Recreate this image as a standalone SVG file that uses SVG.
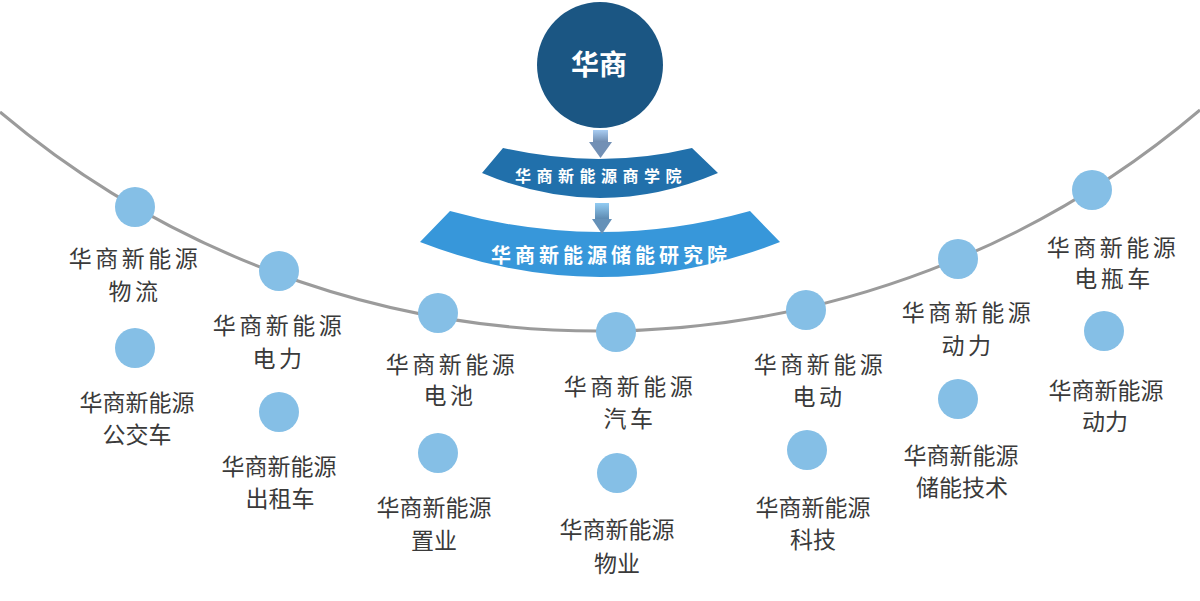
<svg xmlns="http://www.w3.org/2000/svg" width="1200" height="601" viewBox="0 0 1200 601">
<defs>
<linearGradient id="ga1" x1="0" y1="0" x2="0" y2="1"><stop offset="0" stop-color="#a9cdf2"/><stop offset="1" stop-color="#6b87ab"/></linearGradient>
<linearGradient id="ga2" x1="0" y1="0" x2="0" y2="1"><stop offset="0" stop-color="#92ccf3"/><stop offset="1" stop-color="#5a86ad"/></linearGradient>
</defs>
<style>
.dot{fill:#85bfe6}
.up{font-family:"Noto Sans CJK SC","Noto Sans",sans-serif;font-size:23px;fill:#3a3a3a;text-anchor:middle;letter-spacing:3.5px}
.lo{font-family:"Noto Sans CJK SC","Noto Sans",sans-serif;font-size:23px;fill:#3a3a3a;text-anchor:middle}
.wt{font-family:"Noto Sans CJK SC","Noto Sans",sans-serif;fill:#ffffff;font-weight:bold;text-anchor:middle}
</style>
<rect width="1200" height="601" fill="#ffffff"/>
<g id="connectors">
<path d="M0,112 A928,928 0 0 0 1200,110" fill="none" stroke="#9b9b9b" stroke-width="3"/>
</g>
<g id="root">
<circle cx="600" cy="65" r="63" fill="#1b5683"/>
<text class="wt" x="599" y="75" font-size="28">华商</text>
</g>
<g id="band1">
<path d="M503,148 Q600,170 692,148 L718,173 Q600,223 482,173 Z" fill="#2170ab"/>
<text class="wt" x="601" y="182" font-size="16" letter-spacing="5.5">华商新能源商学院</text>
</g>
<g id="band2">
<path d="M450,211 Q600,253 750,211 L780,242 Q600,312 420,242 Z" fill="#3797da"/>
<text class="wt" x="611" y="263" font-size="20" letter-spacing="4">华商新能源储能研究院</text>
</g>
<g id="arrows">
<rect x="593" y="130" width="15" height="13" fill="url(#ga1)"/>
<polygon points="589,142 612,142 600.5,158" fill="#7290b5"/>
<rect x="595" y="203" width="14" height="17" fill="url(#ga2)"/>
<polygon points="592,219 612,219 602,234" fill="#6591b8"/>
</g>
<g id="n1">
<circle class="dot" cx="135" cy="207" r="20"/>
<text class="up" x="135" y="267">华商新能源</text>
<text class="up" x="135" y="300">物流</text>
</g>
<g id="n1b">
<circle class="dot" cx="135" cy="348" r="20"/>
<text class="lo" x="137" y="411">华商新能源</text>
<text class="lo" x="137" y="443">公交车</text>
</g>
<g id="n2">
<circle class="dot" cx="279" cy="271" r="20"/>
<text class="up" x="279" y="334">华商新能源</text>
<text class="up" x="279" y="367">电力</text>
</g>
<g id="n2b">
<circle class="dot" cx="279" cy="412" r="20"/>
<text class="lo" x="279" y="475">华商新能源</text>
<text class="lo" x="280" y="507">出租车</text>
</g>
<g id="n3">
<circle class="dot" cx="438" cy="313" r="20"/>
<text class="up" x="452" y="373">华商新能源</text>
<text class="up" x="450" y="404">电池</text>
</g>
<g id="n3b">
<circle class="dot" cx="438" cy="453" r="20"/>
<text class="lo" x="434" y="516">华商新能源</text>
<text class="lo" x="434" y="549">置业</text>
</g>
<g id="n4">
<circle class="dot" cx="616" cy="332" r="20"/>
<text class="up" x="630" y="395">华商新能源</text>
<text class="up" x="630" y="427">汽车</text>
</g>
<g id="n4b">
<circle class="dot" cx="617" cy="473" r="20"/>
<text class="lo" x="617" y="538">华商新能源</text>
<text class="lo" x="617" y="572">物业</text>
</g>
<g id="n5">
<circle class="dot" cx="806" cy="310" r="20"/>
<text class="up" x="820" y="373">华商新能源</text>
<text class="up" x="819" y="405">电动</text>
</g>
<g id="n5b">
<circle class="dot" cx="807" cy="450" r="20"/>
<text class="lo" x="813" y="516">华商新能源</text>
<text class="lo" x="813" y="548">科技</text>
</g>
<g id="n6">
<circle class="dot" cx="958" cy="259" r="20"/>
<text class="up" x="968" y="321">华商新能源</text>
<text class="up" x="968" y="354">动力</text>
</g>
<g id="n6b">
<circle class="dot" cx="958" cy="399" r="20"/>
<text class="lo" x="961" y="464">华商新能源</text>
<text class="lo" x="962" y="496">储能技术</text>
</g>
<g id="n7">
<circle class="dot" cx="1092" cy="190" r="20"/>
<text class="up" x="1113" y="256">华商新能源</text>
<text class="up" x="1114" y="287">电瓶车</text>
</g>
<g id="n7b">
<circle class="dot" cx="1104" cy="331" r="20"/>
<text class="lo" x="1106" y="399">华商新能源</text>
<text class="lo" x="1105" y="430">动力</text>
</g>
</svg>
